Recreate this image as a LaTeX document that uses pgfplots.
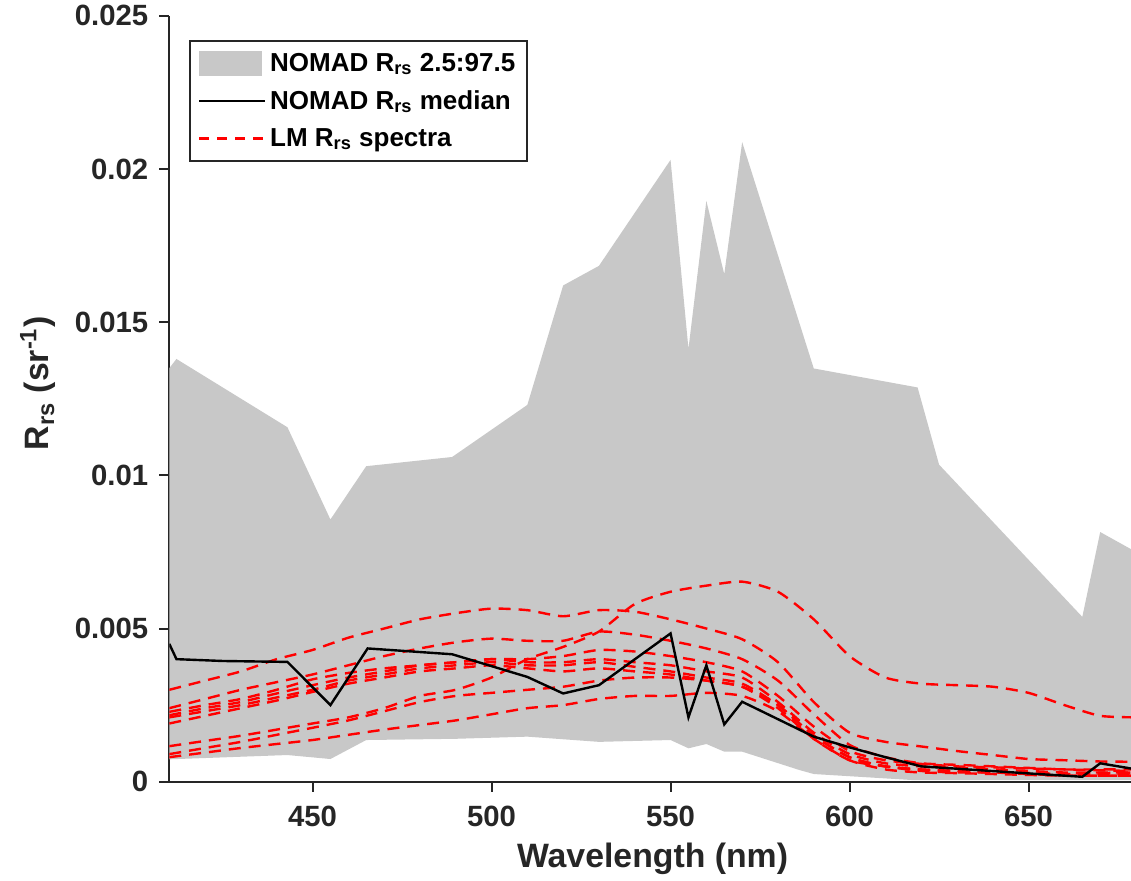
\documentclass[border=0pt]{standalone}
\usepackage{fontspec}
\setmainfont{Liberation Sans}
\usepackage{pgfplots}
\usepackage{pgfplotstable}
\pgfplotsset{compat=1.18}
\usetikzlibrary{calc}
\definecolor{band}{RGB}{200,200,200}
\definecolor{axc}{RGB}{38,38,38}

\pgfplotstableread{
wl  c1      c2      c3      c4      c5      c6      c7      c8      c9
410 0.00116 0.0030  0.0024  0.00228 0.00217 0.0021  0.0019  0.0009  0.0008
420 0.00133 0.0033  0.0027  0.0025  0.0024  0.0023  0.00215 0.0011  0.00095
430 0.0015  0.0036  0.0030  0.0027  0.0026  0.0025  0.0024  0.0013  0.0011
440 0.0017  0.0040  0.00325 0.0030  0.00288 0.00275 0.00265 0.00153 0.00123
450 0.0019  0.0043  0.0035  0.00334 0.00315 0.0030  0.00293 0.00176 0.00136
460 0.0021  0.0047  0.0038  0.00355 0.0034  0.0033  0.0032  0.0020  0.00153
470 0.0024  0.0050  0.0041  0.0037  0.0036  0.0035  0.0034  0.0023  0.0017
480 0.0028  0.0053  0.00435 0.0038  0.0038  0.0037  0.0036  0.0026  0.00185
490 0.0030  0.0055  0.00455 0.0039  0.0039  0.0038  0.0037  0.0028  0.0020
500 0.0034  0.00565 0.00467 0.0040  0.0040  0.0039  0.0038  0.0029  0.0022
510 0.0040  0.0056  0.0046  0.0040  0.0039  0.0038  0.0037  0.0030  0.0024
520 0.0044  0.0054  0.0046  0.0041  0.0039  0.0038  0.0036  0.0031  0.0025
530 0.0049  0.0056  0.0049  0.0043  0.0040  0.0039  0.0037  0.0033  0.0027
540 0.0058  0.00555 0.0048  0.00425 0.0039  0.00375 0.0036  0.0034  0.0028
550 0.0062  0.0053  0.0046  0.0041  0.0038  0.0036  0.0035  0.0034  0.0028
560 0.0064  0.0050  0.00435 0.0039  0.0036  0.0034  0.0033  0.0033  0.0029
570 0.00653 0.00465 0.0040  0.0036  0.0034  0.0032  0.0031  0.0031  0.0028
580 0.0062  0.0039  0.0033  0.0028  0.0026  0.0025  0.0024  0.0025  0.0023
590 0.0053  0.0026  0.0022  0.0018  0.0016  0.0015  0.0014  0.0015  0.0014
600 0.0041  0.0016  0.0012  0.0010  0.0009  0.0008  0.0007  0.0008  0.0007
610 0.0034  0.0013  0.0008  0.0007  0.0006  0.0005  0.0005  0.0005  0.0004
620 0.0032  0.00115 0.0006  0.00058 0.0005  0.0004  0.00035 0.0004  0.0003
630 0.00315 0.0010  0.00055 0.0005  0.00045 0.00035 0.0003  0.00035 0.00028
640 0.0031  0.00087 0.0005  0.00047 0.0004  0.0003  0.0003  0.0003  0.00025
650 0.0029  0.00074 0.00045 0.00043 0.00035 0.00028 0.00025 0.00028 0.00022
660 0.0025  0.0007  0.0004  0.0004  0.0003  0.00025 0.0002  0.00025 0.0002
670 0.00215 0.00066 0.0004  0.00037 0.0003  0.00025 0.0002  0.00028 0.0002
680 0.0021  0.00065 0.0004  0.00035 0.0003  0.00025 0.0002  0.0003  0.0002
}\lmspectra

\pgfplotsset{
  bandleg/.style={legend image code/.code={\fill[band] (0pt,-6pt) rectangle (31.5pt,6.5pt);}},
  blackleg/.style={legend image code/.code={\draw[black, line width=1.2pt] (0pt,0pt) -- (33pt,0pt);}},
  redleg/.style={legend image code/.code={\draw[red, line width=1.2pt, dash pattern=on 5pt off 4pt] (0pt,0pt) -- (33pt,0pt);}},
}

\begin{document}
\begin{tikzpicture}
\begin{axis}[
  scale only axis, width=480.85pt, height=382.9pt,
  xmin=410, xmax=678.6, ymin=0, ymax=0.025,
  axis x line*=bottom, axis y line*=left,
  axis line style={-, draw=axc, line width=1pt},
  xtick={450,500,550,600,650}, xticklabels={450,500,550,600,650},
  ytick={0,0.005,0.01,0.015,0.02,0.025},
  yticklabels={0,0.005,0.01,0.015,0.02,0.025},
  tick align=outside, major tick length=5pt,
  tick style={draw=axc, line width=1pt},
  ticklabel style={font=\fontsize{14.65}{16}\selectfont\bfseries, text=axc},
  xticklabel style={yshift=-3.5pt},
  yticklabel style={xshift=-2pt},
  xlabel={Wavelength (nm)},
  ylabel={R\textsubscript{rs} (sr\textsuperscript{-1})},
  label style={font=\fontsize{16.9}{19}\selectfont\bfseries, text=axc},
  xlabel style={at={(axis description cs:0.5025,-0.1127)}, anchor=base},
  ylabel style={at={(axis description cs:-0.1365,0.52)}, anchor=center},
  legend style={at={(axis description cs:0.0205,0.968)}, anchor=north west,
    font=\fontsize{13}{15.5}\selectfont\bfseries, text=black, draw=axc,
    line width=0.8pt, row sep=4pt, inner xsep=4pt, inner ysep=4pt},
  legend cell align=left,
]
\addplot[fill=band, draw=none, bandleg]
  coordinates {
  (410,0.0135) (412,0.0138) (443,0.01157) (455,0.00856) (465,0.0103)
  (489,0.0106) (510,0.0123) (520,0.0162) (530,0.01684) (550,0.0203)
  (555,0.01413) (560,0.01896) (565,0.01657) (570,0.02088) (590,0.01349)
  (619,0.01287) (625,0.01035) (665,0.00538) (670,0.00815) (680,0.0075)
  (680,0.00005) (650,0.00005) (618,0.00005) (590,0.00025) (586,0.00038)
  (570,0.00098) (565,0.00098) (560,0.00123) (555,0.00109) (550,0.00136)
  (530,0.0013) (510,0.00147) (490,0.0014) (465,0.00136) (455,0.00074)
  (443,0.00087) (410,0.00073)
  } -- cycle;
\addlegendentry{NOMAD R\textsubscript{rs} 2.5:97.5}
\addlegendimage{black, line width=1.2pt, blackleg}
\addlegendentry{NOMAD R\textsubscript{rs} median}
\addlegendimage{red, line width=1.2pt, redleg}
\addlegendentry{LM R\textsubscript{rs} spectra}

\pgfplotsinvokeforeach{c1,c2,c3,c4,c5,c6,c7,c8,c9}{
  \addplot[red, line width=1.2pt, dash pattern=on 6pt off 4pt, smooth, tension=0.4, forget plot]
    table[x=wl, y=#1] {\lmspectra};
}
\addplot[black, line width=1.2pt, forget plot] coordinates {
  (410,0.0045) (412,0.0040) (425,0.00394) (443,0.00391) (455,0.0025)
  (465.4,0.00435) (489,0.00416) (510,0.00342) (520,0.00288) (530,0.00315)
  (550,0.00484) (555,0.0021) (560,0.0038) (565,0.00187) (570,0.00261)
  (590,0.00147) (600,0.00112) (610,0.0008) (620,0.0005) (650,0.00027)
  (665,0.00016) (670,0.0006) (678.6,0.00043)
};
\end{axis}
\pgfresetboundingbox
\path ($(current axis.south west)+(-84.65pt,-49.65pt)$) rectangle ($(current axis.north east)+(0pt,7.95pt)$);
\end{tikzpicture}
\end{document}
